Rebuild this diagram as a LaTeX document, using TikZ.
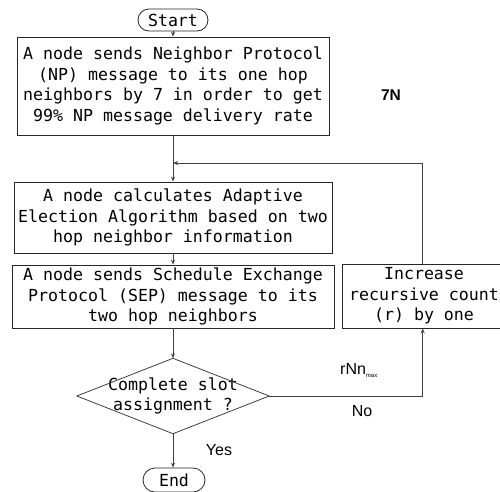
\documentclass[tikz,border=0pt]{standalone}
\usepackage{fontspec}
\setmonofont{DejaVu Sans Mono}
\newfontfamily\lblfont{Liberation Sans}
\usetikzlibrary{arrows.meta}
\begin{document}
\begin{tikzpicture}[x=1pt,y=-1pt,
  every node/.style={font=\ttfamily\fontsize{16.6}{20.5}\selectfont},
  box/.style={draw=black!85, line width=0.8pt, align=center, inner sep=2pt},
  term/.style={draw=black!85, line width=0.8pt, rounded corners=11pt, inner sep=0pt, minimum height=22pt},
  conn/.style={draw=black!75, line width=0.8pt},
  arr/.style={conn, -{Stealth[length=5pt,width=4pt]}},
  lbl/.style={font=\lblfont\fontsize{16}{18}\selectfont, inner sep=0pt}]
\useasboundingbox (0,0) rectangle (500,491);
\node[term, minimum width=70pt] (start) at (173,20) {Start};
\node[box, minimum width=312pt, minimum height=98pt] (b1) at (173,86)
  {A node sends Neighbor Protocol\\(NP) message to its one hop\\neighbors by 7 in order to get\\99\% NP message delivery rate};
\node[box, minimum width=318pt, minimum height=71pt] (b2) at (173,217.5)
  {A node calculates Adaptive\\Election Algorithm based on two\\hop neighbor information};
\node[box, minimum width=322pt, minimum height=63pt] (b3) at (173,296.5)
  {A node sends Schedule Exchange\\Protocol (SEP) message to its\\two hop neighbors};
\node[box, minimum width=164pt, minimum height=64pt] (b4) at (424,296)
  {Increase\\recursive count\\(r) by one};
\node[minimum width=192pt, minimum height=75pt, inner sep=0pt, align=center] (dec) at (173,396)
  {Complete slot\\assignment ?};
\draw[conn] (dec.north) -- (dec.east) -- (dec.south) -- (dec.west) -- cycle;
\node[term, minimum width=62pt, minimum height=24pt, rounded corners=12pt] (end) at (174,480) {End};
\coordinate (join) at (173,163);
\coordinate (fb) at (422.7,296);
\draw[arr] (start) -- (b1);
\draw[arr] (b1) -- (b2);
\draw[arr] (b4.north -| fb) |- (join);
\draw[arr] (b2) -- (b3);
\draw[arr] (b3) -- (dec.north);
\draw[arr] (dec.east) -| (b4.south -| fb);
\draw[arr] (dec.south) -- (end.north -| dec.south);
\node[lbl, font=\lblfont\bfseries\fontsize{15.5}{17}\selectfont] (n7) at (391,95) {7N};
\node[lbl, anchor=west] (rnn) at (340,371) {rNn\raisebox{-3pt}{\fontsize{6}{6}\selectfont max}};
\node[lbl] (no) at (362,411) {No};
\node[lbl] (yes) at (219,450) {Yes};
\end{tikzpicture}
\end{document}
